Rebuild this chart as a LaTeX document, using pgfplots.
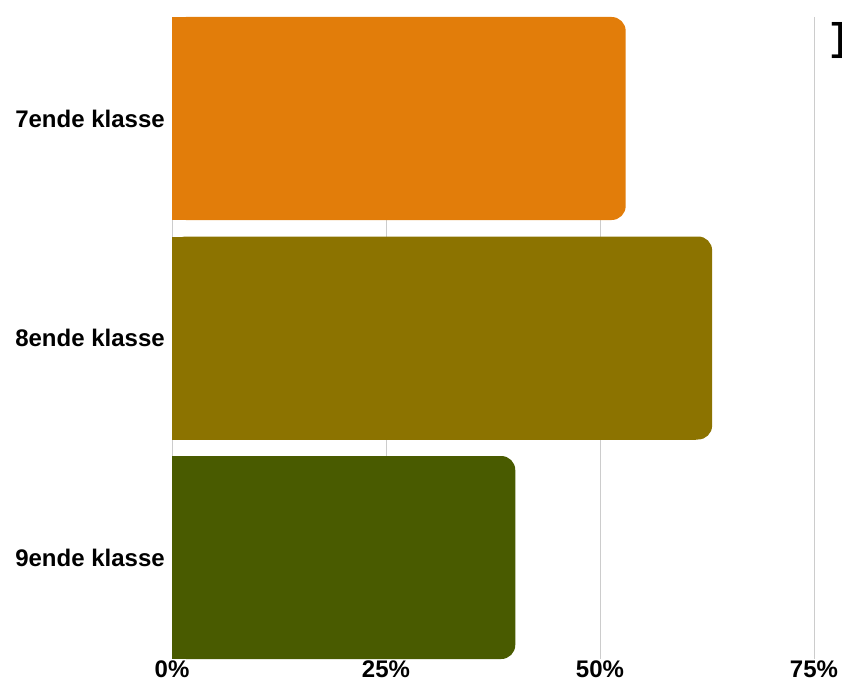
\documentclass[border=0pt]{standalone}
\usepackage{pgfplots}
\pgfplotsset{compat=1.18}
\usepackage{fontspec}
\setmainfont{Liberation Sans}
\setmonofont{Liberation Mono}
\definecolor{cseven}{HTML}{E27D0A}
\definecolor{ceight}{HTML}{8C7300}
\definecolor{cnine}{HTML}{495B00}
\definecolor{gridgray}{HTML}{CCCCCC}
\begin{document}
\begin{tikzpicture}
\useasboundingbox (0,0) rectangle (631.5pt,511.5pt);
\begin{axis}[
  at={(129pt,17.25pt)}, anchor=south west,
  scale only axis, width=481.5pt, height=481.5pt,
  xbar, bar width=152.25pt,
  xmin=0, xmax=75,
  ymin=-0.4624, ymax=2.4624, y dir=reverse,
  ytick={0,1,2},
  yticklabels={7ende klasse,8ende klasse,9ende klasse},
  xtick={0,25,50,75},
  xticklabels={0\%,25\%,50\%,75\%},
  xmajorgrids,
  grid style={gridgray, line width=0.75pt},
  axis line style={draw=none},
  tick style={draw=none},
  major tick length=0pt,
  tick label style={font=\fontsize{18}{21}\selectfont\bfseries},
  yticklabel style={anchor=east, inner sep=0pt, xshift=-5.25pt},
  xticklabel style={anchor=north, inner sep=0pt, yshift=-1pt},
]
% rounded right end, square left end
\addplot[fill=cseven, draw=none, bar shift=0pt, rounded corners=10.5pt] coordinates {(53.0,0)};
\addplot[fill=cseven, draw=none, bar shift=0pt, xshift=-12pt] coordinates {(53.0,0)};
\addplot[fill=ceight, draw=none, bar shift=0pt, rounded corners=10.5pt] coordinates {(63.1,1)};
\addplot[fill=ceight, draw=none, bar shift=0pt, xshift=-12pt] coordinates {(63.1,1)};
\addplot[fill=cnine, draw=none, bar shift=0pt, rounded corners=10.5pt] coordinates {(40.1,2)};
\addplot[fill=cnine, draw=none, bar shift=0pt, xshift=-12pt] coordinates {(40.1,2)};
\end{axis}
\node[anchor=west, inner sep=0pt, font=\fontsize{29}{33}\selectfont\ttfamily\bfseries] at (620.5pt,481pt) {]};
\end{tikzpicture}
\end{document}
